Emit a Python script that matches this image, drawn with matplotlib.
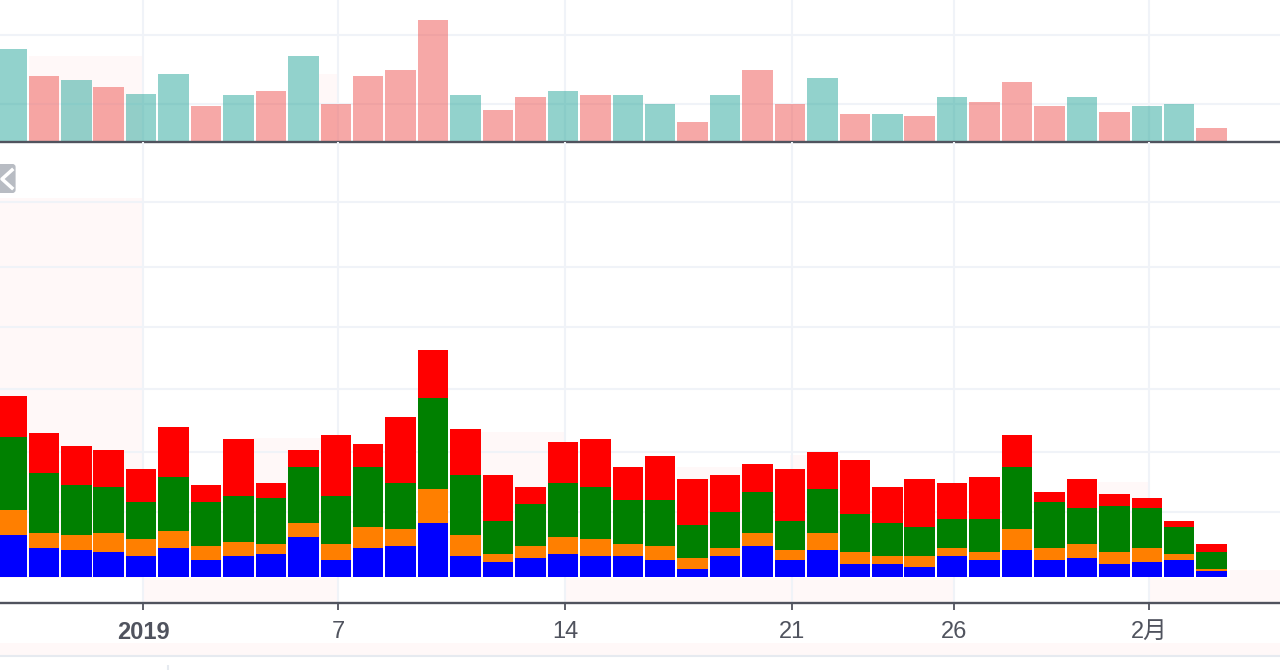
import matplotlib
matplotlib.use("Agg")
import matplotlib.pyplot as plt
from matplotlib.patches import FancyBboxPatch, Rectangle
import numpy as np

# Volume pane (top)
volume = [46.5, 33, 31, 27.5, 24, 34, 18, 23.5, 25.5, 43, 19, 33, 36, 61, 23.5, 16, 22.5, 25.5, 23.5,
          23.5, 19, 10, 23.5, 36, 19, 32, 14, 14, 13, 22.5, 20, 30, 18, 22.5, 15, 18, 19, 7]
volume_up = [1, 0, 1, 0, 1, 1, 0, 1, 0, 1, 0, 0, 0, 0, 1, 0, 0, 1, 0,
             1, 1, 0, 1, 0, 0, 1, 0, 1, 0, 1, 0, 0, 0, 1, 0, 1, 1, 0]

# Stacked pane (bottom)
blue = [20, 14, 13, 12, 10, 14, 8, 10, 11, 19, 8, 14, 15, 26, 10, 7, 9, 11, 10,
        10, 8, 4, 10, 15, 8, 13, 6, 6, 5, 10, 8, 13, 8, 9, 6, 7, 8, 3]
orange = [12, 7, 7, 9, 8, 8, 7, 7, 5, 7, 8, 10, 8, 16, 10, 4, 6, 8, 8,
          6, 7, 5, 4, 6, 5, 8, 6, 4, 5, 4, 4, 10, 6, 7, 6, 7, 3, 1]
green = [35, 29, 24, 22, 18, 26, 21, 22, 22, 27, 23, 29, 22, 44, 29, 16, 20, 26, 25,
         21, 22, 16, 17, 20, 14, 21, 18, 16, 14, 14, 16, 30, 22, 17, 22, 19, 13, 8]
red = [20, 19, 19, 18, 16, 24, 8, 27, 7, 8, 29, 11, 32, 23, 22, 22, 8, 20, 23,
       16, 21, 22, 18, 13, 25, 18, 26, 17, 23, 17, 20, 15, 5, 14, 6, 5, 3, 4]

tick_pos = [4.07, 10.07, 17.07, 24.07, 29.07, 35.07]
tick_labels = ["2019", "7", "14", "21", "26", "2月"]
top_grid = [19, 53.5]
bottom_grid = [31, 60, 90, 120, 149, 180]

W, H = 1280, 670
AXIS = "#50535e"
GRID = "#f0f3f8"
PINK = "#fff8f8"
plt.rcParams["font.family"] = ["Liberation Sans", "Noto Sans CJK JP"]

fig = plt.figure(figsize=(W / 100, H / 100), dpi=100)


def pane(top, bottom):
    return fig.add_axes([0, 1 - bottom / H, 1, (bottom - top) / H])


def style(ax):
    ax.set_xlim(-0.351, 39.106)
    for s in ["top", "left", "right"]:
        ax.spines[s].set_visible(False)
    ax.spines["bottom"].set_color(AXIS)
    ax.spines["bottom"].set_linewidth(1.7)
    ax.set_yticks([])
    ax.set_facecolor("none")


x = np.arange(len(volume))

ax1 = pane(0, 142)
style(ax1)
ax1.set_ylim(0, 71)
ax1.hlines(top_grid, -1, 40, color=GRID, lw=1.5, zorder=1)
ax1.vlines(tick_pos, 0, 71, color=GRID, lw=1.5, zorder=1)
ax1.bar(x, volume, width=0.94, zorder=2,
        color=["#26a69a" if u else "#ef5350" for u in volume_up], alpha=0.5)
ax1.set_xticks([])

ax2 = pane(142, 603)
style(ax2)
ax2.set_ylim(-12.5, 208.8)
ax2.hlines(bottom_grid, -1, 40, color=GRID, lw=1.5, zorder=1)
ax2.vlines(tick_pos, -12.5, 208.8, color=GRID, lw=1.5, zorder=1)
base = np.zeros(len(x))
for vals, col in [(blue, "#0000ff"), (orange, "#ff7f00"), (green, "#008000"), (red, "#ff0000")]:
    ax2.bar(x, vals, bottom=base, width=0.94, color=col, zorder=2)
    base = base + np.array(vals)
ax2.set_xticks(tick_pos)
ax2.set_xticklabels(tick_labels, fontsize=17, color=AXIS)
ax2.get_xticklabels()[0].set_fontweight("bold")
ax2.tick_params(axis="x", length=5, width=1.3, color=AXIS, pad=8)

# faint pink blocks behind the plot and the bottom rule, in pixels
bg = fig.add_axes([0, 0, 1, 1], zorder=-1)
bg.set_xlim(0, W)
bg.set_ylim(H, 0)
bg.axis("off")
for bx, by, bw, bh in [(0, 198, 143, 380), (29, 56, 114, 86), (319, 74, 19, 68),
                       (253, 438, 85, 139), (480, 432, 85, 145), (143, 578, 195, 24),
                       (565, 578, 389, 24), (1149, 578, 131, 24), (1230, 570, 50, 8),
                       (1098, 482, 50, 95), (677, 467, 65, 110), (790, 455, 50, 122),
                       (0, 643, 1280, 12)]:
    bg.add_patch(Rectangle((bx, by), bw, bh, color=PINK, lw=0))
bg.hlines(656, 0, W, color="#e6eaf0", lw=1.5)
bg.vlines(168, 665, 670, color="#e6eaf0", lw=1.5)

# collapse button at the left edge
over = fig.add_axes([0, 0, 1, 1], zorder=5)
over.set_xlim(0, W)
over.set_ylim(H, 0)
over.axis("off")
over.add_patch(FancyBboxPatch((-10, 164), 25.6, 29, boxstyle="round,pad=0,rounding_size=3",
                              color="#b8bcc3", lw=0))
over.plot([12, 2, 12], [170, 179, 188], color="white", lw=2.5)

fig.savefig("out.png", dpi=100)
